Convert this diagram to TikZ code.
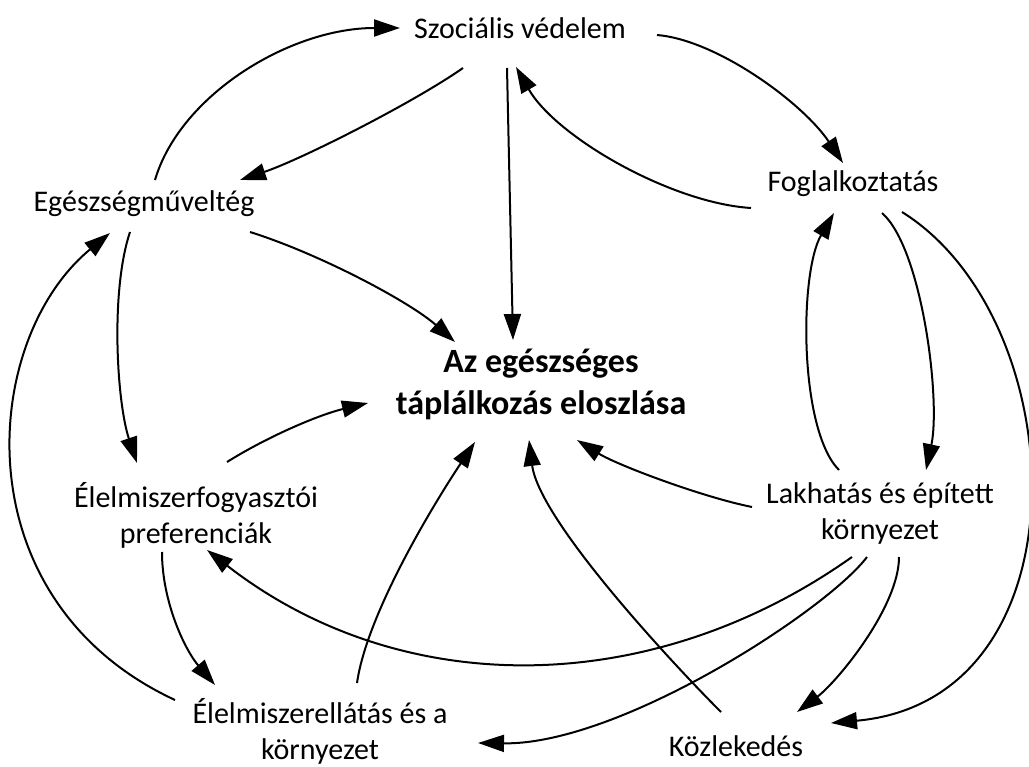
\documentclass[tikz,border=0pt]{standalone}
\usepackage{fontspec}
\setmainfont{Carlito}
\usetikzlibrary{arrows.meta}
\begin{document}
\begin{tikzpicture}[x=1pt,y=-1pt,
  lbl/.style={inner sep=0pt,align=center,font=\fontsize{30}{36}\selectfont},
  fo/.style={inner sep=0pt,align=center,font=\fontsize{34}{42}\selectfont\bfseries},
  arr/.style={line width=2pt,-{Triangle[length=26pt,width=17pt]}}]
\useasboundingbox (0,0) rectangle (1029,767);
% nodes
\node[lbl] (szoc) at (520,28) {Szociális védelem};
\node[lbl] (egesz) at (144,204) {Egészségműveltég};
\node[lbl] (fogl) at (853,184) {Foglalkoztatás};
\node[fo] (kozep) at (541,384) {Az egészséges\\táplálkozás eloszlása};
\node[lbl] (elfogy) at (196,515) {Élelmiszerfogyasztói\\preferenciák};
\node[lbl] (lakh) at (880,514) {Lakhatás és épített\\környezet};
\node[lbl] (elell) at (320,731) {Élelmiszerellátás és a\\környezet};
\node[lbl] (kozl) at (736,746) {Közlekedés};
% upper part
\draw[arr] ([shift={(11,-24)}]egesz.center) .. controls +(25,-85) and +(-110,0) .. ([shift={(-120,0)}]szoc.center);
\draw[arr] ([shift={(-57,40)}]szoc.center) .. controls +(-50,35) and +(60,-20) .. ([shift={(96,-24)}]egesz.center);
\draw[arr] ([shift={(-13,40)}]szoc.center) -- ([shift={(-28,-44)}]kozep.center);
\draw[arr] ([shift={(137,7)}]szoc.center) .. controls +(60,5) and +(-40,-60) .. ([shift={(-10,-21)}]fogl.center);
\draw[arr] ([shift={(-102,24)}]fogl.center) .. controls +(-80,-5) and +(40,70) .. ([shift={(-4,39)}]szoc.center);
\draw[arr] ([shift={(106,28)}]egesz.center) .. controls +(70,22) and +(-45,-40) .. ([shift={(-86,-42)}]kozep.center);
% left side
\draw[arr] ([shift={(-14,28)}]egesz.center) .. controls +(-20,60) and +(-20,-60) .. ([shift={(-59,-52)}]elfogy.center);
\draw[arr] ([shift={(-145,-31)}]elell.center) .. controls +(-215,-100) and +(-130,107) .. ([shift={(-34,29)}]egesz.center);
\draw[arr] ([shift={(31,-53)}]elfogy.center) .. controls +(40,-25) and +(-50,12) .. ([shift={(-173,19)}]kozep.center);
\draw[arr] ([shift={(-34,37)}]elfogy.center) .. controls +(0,50) and +(-30,-35) .. ([shift={(-105,-46)}]elell.center);
\draw[arr] ([shift={(37,-48)}]elell.center) .. controls +(10,-70) and +(-40,60) .. ([shift={(-66,58)}]kozep.center);
% right side
\draw[arr] ([shift={(-28,43)}]lakh.center) .. controls +(-202,143) and +(193,150) .. ([shift={(11,35)}]elfogy.center);
\draw[arr] ([shift={(-13,43)}]lakh.center) .. controls +(-40,53) and +(142,2) .. ([shift={(158,12)}]elell.center);
\draw[arr] ([shift={(-15,-34)}]kozl.center) .. controls +(-50,-50) and +(10,80) .. ([shift={(-12,56)}]kozep.center);
\draw[arr] ([shift={(-128,-7)}]lakh.center) .. controls +(-50,-10) and +(40,25) .. ([shift={(36,56)}]kozep.center);
\draw[arr] ([shift={(19,43)}]lakh.center) .. controls +(0,50) and +(40,-30) .. ([shift={(61,-34)}]kozl.center);
\draw[arr] ([shift={(49,28)}]fogl.center) .. controls +(173,108) and +(259,-23) .. ([shift={(95,-23)}]kozl.center);
\draw[arr] ([shift={(29,29)}]fogl.center) .. controls +(40,35) and +(15,-70) .. ([shift={(46,-44)}]lakh.center);
\draw[arr] ([shift={(-41,-44)}]lakh.center) .. controls +(-40,-40) and +(-35,60) .. ([shift={(-19,29)}]fogl.center);
\end{tikzpicture}
\end{document}
